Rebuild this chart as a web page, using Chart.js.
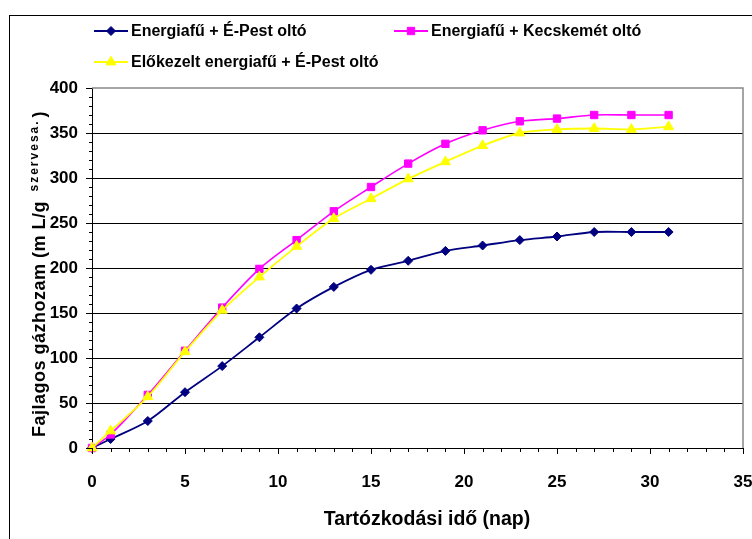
<!DOCTYPE html>
<html>
<head>
<meta charset="utf-8">
<script src="https://cdn.jsdelivr.net/npm/chart.js@4/dist/chart.umd.min.js"></script>
<style>
  html, body { margin: 0; padding: 0; background: #fff; }
  #wrap { width: 752px; height: 539px; position: relative; overflow: hidden; }
</style>
</head>
<body>
<div id="wrap"><canvas id="chart" width="752" height="539"></canvas></div>
<script>
// days of residence (x) and specific gas yield (y)
const days = [0, 1, 3, 5, 7, 9, 11, 13, 15, 17, 19, 21, 23, 25, 27, 29, 31];
const ePest = [0, 10, 30, 62, 91, 123, 155, 179, 198, 208, 219, 225, 231, 235, 240, 240, 240];
const kecskemet = [0, 15, 59, 108, 156, 199, 231, 263, 290, 316, 338, 353, 363, 366, 370, 370, 370];
const elokezelt = [0, 19, 57, 107, 153, 190, 224, 255, 277, 299, 318, 336, 350, 354, 355, 354, 357];

const seriesLabels = ["Energiafű + É-Pest oltó", "Energiafű + Kecskemét oltó", "Előkezelt energiafű + É-Pest oltó"];
const xTicks = [0, 5, 10, 15, 20, 25, 30, 35];
const yTicks = [0, 50, 100, 150, 200, 250, 300, 350, 400];

const FONT = "'Liberation Sans', Arial, sans-serif";

function pts(vals) { return days.map((d, i) => ({ x: d, y: vals[i] })); }

const styles = [
  { color: "#000080", pointStyle: "rectRot", radius: 4.5 },
  { color: "#FF00FF", pointStyle: "rect", radius: 5.2 },
  { color: "#FFFF00", pointStyle: "triangle", radius: 5.8 }
];

const datasets = [ePest, kecskemet, elokezelt].map((vals, i) => ({
  label: seriesLabels[i],
  data: pts(vals),
  borderColor: styles[i].color,
  backgroundColor: styles[i].color,
  pointBackgroundColor: styles[i].color,
  pointBorderColor: styles[i].color,
  pointStyle: styles[i].pointStyle,
  pointRadius: styles[i].radius,
  pointHoverRadius: styles[i].radius,
  pointBorderWidth: 1,
  borderWidth: i === 1 ? 1.6 : 1.8,
  tension: 0.3,
  clip: false,
  order: 2 - i
}));

const decor = {
  id: "decor",
  beforeDraw(chart) {
    const ctx = chart.ctx;
    ctx.save();
    ctx.strokeStyle = "#000";
    ctx.lineWidth = 1;
    ctx.strokeRect(9.5, 15.5, 1000, 1000);
    ctx.restore();
  },
  afterDraw(chart) {
    const ctx = chart.ctx;
    const { left, right, top, bottom } = chart.chartArea;
    const xs = chart.scales.x, ys = chart.scales.y;
    ctx.save();

    // plot frame (top/right in gray)
    ctx.strokeStyle = "#888";
    ctx.lineWidth = 1.5;
    ctx.beginPath();
    ctx.moveTo(left, top); ctx.lineTo(right, top); ctx.lineTo(right, bottom);
    ctx.stroke();

    // tick marks
    ctx.strokeStyle = "#000";
    ctx.lineWidth = 1;
    ctx.beginPath();
    for (let v = 0; v <= 400; v += 10) {
      const y = Math.round(ys.getPixelForValue(v)) + 0.5;
      const len = v % 50 === 0 ? 6 : 3;
      ctx.moveTo(left - len, y); ctx.lineTo(left, y);
    }
    for (let d = 0; d <= 35; d++) {
      const x = Math.round(xs.getPixelForValue(d)) + 0.5;
      const len = d % 5 === 0 ? 6 : 4;
      ctx.moveTo(x, bottom); ctx.lineTo(x, bottom + len);
    }
    ctx.stroke();

    // legend
    const pos = [[94, 31], [394, 31], [94, 62]];
    datasets.forEach((ds, i) => {
      const [x0, y0] = pos[i];
      ctx.strokeStyle = ds.borderColor;
      ctx.fillStyle = ds.borderColor;
      ctx.lineWidth = 2;
      ctx.beginPath();
      ctx.moveTo(x0, y0); ctx.lineTo(x0 + 34, y0);
      ctx.stroke();
      ctx.lineWidth = 1;
      Chart.helpers.drawPoint(ctx, { pointStyle: ds.pointStyle, radius: ds.pointRadius, rotation: 0, borderWidth: 1 }, x0 + 17, y0);
      ctx.fillStyle = "#000";
      ctx.font = "bold 16px " + FONT;
      ctx.textBaseline = "middle";
      ctx.textAlign = "left";
      ctx.fillText(ds.label, x0 + 37, y0 + 1);
    });

    // x title
    ctx.font = "bold 19.5px " + FONT;
    ctx.textAlign = "center";
    ctx.textBaseline = "alphabetic";
    ctx.fillText("Tartózkodási idő (nap)", 427, 525);

    // y title with subscript
    ctx.translate(45, 437);
    ctx.rotate(-Math.PI / 2);
    ctx.textAlign = "left";
    ctx.letterSpacing = "0.5px";
    ctx.font = "bold 18px " + FONT;
    const main = "Fajlagos gázhozam (m L/g ";
    ctx.fillText(main, 0, 0);
    let w = ctx.measureText(main).width;
    ctx.font = "bold 12px " + FONT;
    ctx.letterSpacing = "2px";
    const sub = "szervesa.";
    ctx.fillText(sub, w + 4, -7);
    w += 4 + ctx.measureText(sub).width;
    ctx.font = "bold 18px " + FONT;
    ctx.letterSpacing = "0.5px";
    ctx.fillText(")", w + 2, 0);
    ctx.restore();
  }
};

new Chart(document.getElementById("chart"), {
  type: "line",
  data: { datasets },
  options: {
    responsive: false,
    animation: false,
    events: [],
    layout: { padding: { left: 0, top: 88, right: 9, bottom: 0 } },
    plugins: { legend: { display: false }, tooltip: { enabled: false } },
    scales: {
      x: {
        type: "linear",
        min: 0, max: 35,
        afterBuildTicks: s => { s.ticks = xTicks.map(v => ({ value: v })); },
        afterFit: s => { s.height = 91; s.paddingLeft = 0; s.paddingRight = 0; },
        ticks: { font: { family: FONT, size: 17, weight: "bold" }, color: "#000", padding: 24, maxRotation: 0, autoSkip: false },
        grid: { drawOnChartArea: false, drawTicks: false },
        border: { display: true, color: "#000", width: 1 }
      },
      y: {
        min: 0, max: 400,
        afterBuildTicks: s => { s.ticks = yTicks.map(v => ({ value: v })); },
        afterFit: s => { s.width = 92; s.paddingTop = 0; s.paddingBottom = 0; },
        ticks: { font: { family: FONT, size: 17, weight: "bold" }, color: "#000", padding: 14 },
        grid: { color: c => (c.tick && c.tick.value === 400) ? "rgba(0,0,0,0)" : "#000", lineWidth: 1, drawTicks: false },
        border: { display: true, color: "#000", width: 1 }
      }
    }
  },
  plugins: [decor]
});
</script>
</body>
</html>
